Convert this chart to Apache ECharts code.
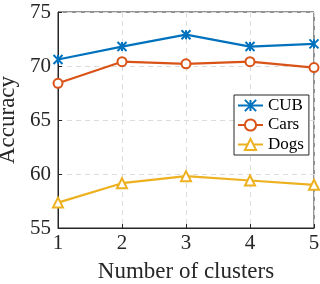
<!DOCTYPE html>
<html>
<head>
<meta charset="utf-8">
<script src="https://cdn.jsdelivr.net/npm/echarts@6/dist/echarts.min.js"></script>
<style>
html, body { margin: 0; padding: 0; background: #fff; }
#chart { width: 320px; height: 284px; }
</style>
</head>
<body>
<div id="chart"></div>
<script>
var clusters = [1, 2, 3, 4, 5];
var cub = [70.6, 71.8, 72.9, 71.8, 72.05];
var cars = [68.4, 70.4, 70.2, 70.4, 69.85];
var dogs = [57.35, 59.15, 59.8, 59.4, 59.0];
var yTicks = [55, 60, 65, 70, 75];

var font = 'Liberation Serif';
var crossPath = 'path://M0,0L10,10M10,0L0,10M5,0L5,10';

function pairs(vals) {
	return clusters.map(function (c, i) { return [c, vals[i]]; });
}

var chartDom = document.getElementById('chart');
var myChart = echarts.init(chartDom, null, { devicePixelRatio: 1 });
var option = {
	animation: false,
	color: ['#0072BD', '#D95319', '#EDB120'],
	grid: {
		left: 58,
		right: 6,
		top: 12,
		bottom: 56,
		outerBoundsMode: 'none',
		containLabel: false,
		show: true,
		borderColor: '#262626',
		borderWidth: 1
	},
	legend: {
		orient: 'vertical',
		left: 234,
		top: 95,
		padding: [2, 5, 2, 3],
		itemGap: 2.5,
		itemWidth: 25,
		itemHeight: 14,
		borderColor: '#262626',
		borderWidth: 1,
		backgroundColor: '#fff',
		textStyle: { fontFamily: font, fontSize: 17, lineHeight: 17, color: '#000' },
		data: ['CUB', 'Cars', 'Dogs']
	},
	xAxis: {
		type: 'value',
		min: 1,
		max: 5,
		interval: 1,
		name: 'Number of clusters',
		nameLocation: 'middle',
		nameGap: 32,
		nameTextStyle: { fontFamily: font, fontSize: 23, color: '#262626' },
		axisLine: { show: true, lineStyle: { color: '#262626' } },
		axisTick: { show: true, inside: true, length: 4, lineStyle: { color: '#262626' } },
		axisLabel: { fontFamily: font, fontSize: 21, color: '#262626', margin: 5 },
		splitLine: { show: true, lineStyle: { color: '#dcdcdc', type: [5, 4] } }
	},
	yAxis: {
		type: 'value',
		min: 55,
		max: 75,
		interval: 5,
		name: 'Accuracy',
		nameLocation: 'middle',
		nameGap: 30,
		nameTextStyle: { fontFamily: font, fontSize: 23, color: '#262626' },
		axisLine: { show: true, lineStyle: { color: '#262626' } },
		axisTick: { show: true, inside: true, length: 4, lineStyle: { color: '#262626' } },
		axisLabel: {
			fontFamily: font, fontSize: 21, color: '#262626', margin: 7,
			formatter: function (v) { return yTicks.indexOf(v) >= 0 ? String(v) : ''; }
		},
		splitLine: { show: true, lineStyle: { color: '#dcdcdc', type: [5, 4] } }
	},
	series: [
		{
			name: 'CUB',
			type: 'line',
			data: pairs(cub),
			symbol: crossPath,
			symbolSize: 9,
			itemStyle: { color: '#0072BD', borderColor: '#0072BD', borderWidth: 2 },
			lineStyle: { width: 2.2 }
		},
		{
			name: 'Cars',
			type: 'line',
			data: pairs(cars),
			symbol: 'circle',
			symbolSize: 9,
			itemStyle: { color: '#fff', borderColor: '#D95319', borderWidth: 2 },
			lineStyle: { width: 2.2, color: '#D95319' }
		},
		{
			name: 'Dogs',
			type: 'line',
			data: pairs(dogs),
			symbol: 'triangle',
			symbolSize: 10,
			itemStyle: { color: '#fff', borderColor: '#EDB120', borderWidth: 2 },
			lineStyle: { width: 2.2, color: '#EDB120' }
		}
	]
};
option && myChart.setOption(option);
</script>
</body>
</html>
